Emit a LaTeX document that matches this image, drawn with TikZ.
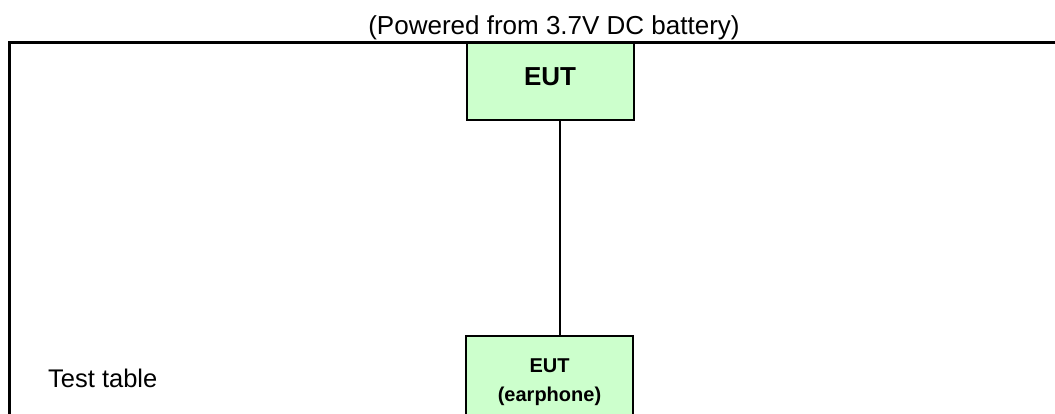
\documentclass[tikz,border=0pt]{standalone}
\usepackage{fontspec}
\setmainfont{Liberation Sans}
\definecolor{eutgreen}{RGB}{204,255,204}

\begin{document}
\begin{tikzpicture}[ x=1pt, y=-1pt,
  eutbox/.style={draw, line width=2pt, fill=eutgreen, minimum width=167pt, anchor=north} ]

\useasboundingbox (0,0) rectangle (1055,414);

\node[anchor=base, font=\fontsize{26}{30}\selectfont] (cap) at (554,34.5) {(Powered from 3.7V DC battery)};

% test table
\draw[line width=2.4pt] (1060,42.5) -- (9.5,42.5) -- (9.5,420);
\node[anchor=base west, inner sep=0pt, font=\fontsize{25.5}{30}\selectfont] (tab) at (48,387) {Test table};

\node[eutbox, inner ysep=24.5pt, text depth=10pt, font=\fontsize{26}{30}\selectfont\bfseries] (eut) at (550,42.5) {EUT};

\node[eutbox, inner ysep=23pt, text depth=40pt, align=center, font=\fontsize{20}{29}\selectfont\bfseries] (ear) at (549.5,335)
  {EUT\\ (earphone)};

\draw[line width=1.6pt] ([xshift=10pt]eut.south) -- ([xshift=10.5pt]ear.north);

\end{tikzpicture}
\end{document}
